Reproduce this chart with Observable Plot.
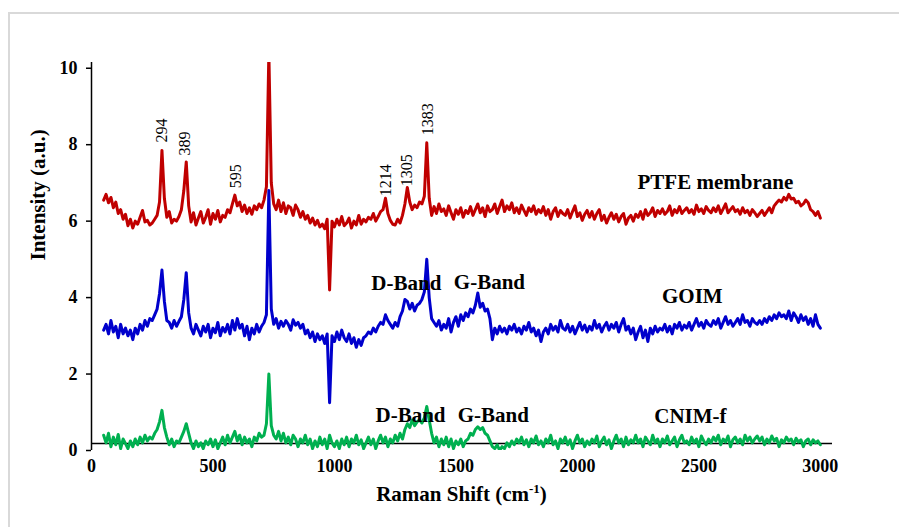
<!DOCTYPE html>
<html><head><meta charset="utf-8">
<script src="https://cdn.jsdelivr.net/npm/d3@7"></script>
<script src="https://cdn.jsdelivr.net/npm/@observablehq/plot@0.6"></script>
<style>
html,body{margin:0;padding:0;background:#fff;overflow:hidden;width:899px;height:527px}
#frame{position:absolute;left:8px;top:12px;width:2000px;height:2000px;border:2px solid #d9d9d9;box-sizing:border-box}
#chart{position:absolute;left:0;top:0}
</style></head><body><div id="frame"></div><div id="chart"></div>
<script>
// Raman shift grid (cm-1), one sample every 10 cm-1 from 50 to 3000
const shift = d3.range(50, 3001, 10);

const ptfe = [
6.55,6.70,6.48,6.62,6.35,6.50,6.20,6.30,6.05,6.18,
5.88,6.05,5.82,6.00,5.92,6.10,6.28,5.98,6.02,5.90,
5.95,6.05,6.15,6.50,7.85,6.60,6.10,6.25,5.95,6.05,
6.00,6.12,6.30,6.80,7.55,6.40,5.98,6.22,5.90,6.08,
6.25,5.95,6.10,6.30,5.92,6.20,6.05,6.28,5.98,6.15,
6.10,6.30,6.22,6.45,6.68,6.40,6.50,6.25,6.42,6.20,
6.35,6.18,6.40,6.30,6.45,6.35,6.55,6.90,10.4,7.00,
6.45,6.30,6.55,6.25,6.48,6.20,6.40,6.35,6.15,6.42,
6.30,6.10,6.25,6.05,6.15,5.95,6.08,5.90,6.02,5.85,
5.92,5.80,6.05,4.20,6.00,5.85,6.05,5.90,6.12,5.88,
5.95,6.08,5.82,6.00,5.90,6.15,5.92,6.05,5.98,6.10,
6.05,6.20,6.00,6.12,6.25,6.30,6.60,6.20,6.02,5.92,
5.90,6.05,5.95,6.15,6.45,6.88,6.50,6.30,6.42,6.35,
6.50,6.45,6.65,8.05,6.60,6.15,6.38,6.20,6.45,6.25,
6.32,6.15,6.40,6.22,6.05,6.30,6.18,6.35,6.10,6.28,
6.20,6.38,6.15,6.30,6.45,6.22,6.35,6.12,6.40,6.25,
6.30,6.45,6.20,6.38,6.55,6.25,6.40,6.30,6.48,6.22,
6.35,6.20,6.42,6.28,6.15,6.35,6.25,6.40,6.18,6.30,
6.22,6.38,6.15,6.30,6.05,6.25,6.35,6.12,6.28,6.20,
6.15,6.30,6.08,6.25,6.40,6.12,6.22,6.02,6.18,6.28,
6.10,6.25,6.05,6.20,6.30,6.02,6.15,5.95,6.10,6.22,
6.05,6.18,5.98,6.12,6.20,5.92,6.08,6.15,6.00,6.18,
6.10,6.25,6.05,6.30,6.15,6.22,6.35,6.12,6.28,6.20,
6.32,6.18,6.25,6.40,6.15,6.30,6.22,6.38,6.20,6.28,
6.35,6.22,6.30,6.18,6.42,6.25,6.32,6.20,6.38,6.28,
6.22,6.35,6.25,6.40,6.20,6.32,6.45,6.22,6.30,6.38,
6.25,6.30,6.18,6.35,6.22,6.28,6.15,6.30,6.22,6.12,
6.20,6.28,6.15,6.25,6.35,6.22,6.40,6.48,6.55,6.50,
6.62,6.55,6.70,6.58,6.60,6.48,6.52,6.40,6.45,6.55,
6.48,6.30,6.25,6.15,6.25,6.08
];

const goim = [
3.15,3.30,3.05,3.40,3.10,3.25,2.95,3.30,3.05,3.20,
3.00,3.15,2.90,3.20,3.05,3.30,3.15,3.40,3.25,3.45,
3.40,3.55,3.70,4.10,4.72,3.90,3.40,3.35,3.20,3.40,
3.25,3.38,3.50,3.95,4.65,3.60,3.20,3.05,3.30,3.15,
3.00,3.25,3.10,3.30,2.95,3.20,3.08,3.35,3.00,3.22,
3.10,3.30,3.05,3.40,3.15,3.45,3.20,3.30,3.00,3.25,
2.90,3.20,3.05,3.30,3.10,3.25,3.35,3.55,6.80,3.70,
3.30,3.45,3.20,3.38,3.25,3.40,3.30,3.15,3.42,3.28,
3.35,3.20,3.30,3.05,3.15,2.95,3.10,2.85,3.05,2.90,
3.00,2.80,3.05,1.25,3.00,2.85,3.10,2.90,3.15,2.95,
2.85,3.05,2.80,2.95,2.70,2.90,2.75,2.95,3.00,3.10,
3.05,3.20,3.10,3.25,3.35,3.30,3.55,3.40,3.30,3.20,
3.35,3.25,3.50,3.65,3.95,3.90,3.70,3.85,3.65,3.80,
3.85,3.95,4.15,5.00,4.00,3.45,3.35,3.25,3.40,3.15,
3.30,3.20,3.45,3.10,3.35,3.50,3.25,3.55,3.40,3.60,
3.50,3.70,3.60,3.80,4.12,3.75,3.85,3.65,3.70,3.45,
2.90,3.20,3.05,3.25,3.10,3.20,3.05,3.25,3.15,3.30,
3.10,3.20,3.05,3.25,3.15,3.35,3.10,3.20,3.00,3.15,
2.85,3.10,3.20,3.05,3.30,3.15,3.25,3.10,3.40,3.20,
3.15,3.30,3.10,3.25,3.05,3.20,3.35,3.15,3.28,3.10,
3.25,3.15,3.40,3.20,3.30,3.10,3.25,3.35,3.15,3.30,
3.20,3.35,3.10,3.30,3.45,3.15,3.25,3.05,3.20,2.90,
3.10,3.25,2.95,3.15,2.85,3.20,3.05,3.25,3.10,3.20,
3.15,3.30,3.10,3.25,3.05,3.30,3.20,3.35,3.15,3.28,
3.20,3.35,3.15,3.30,3.45,3.25,3.35,3.20,3.40,3.30,
3.25,3.40,3.30,3.45,3.20,3.35,3.50,3.30,3.40,3.25,
3.35,3.45,3.30,3.55,3.35,3.40,3.25,3.45,3.35,3.30,
3.40,3.30,3.45,3.35,3.50,3.40,3.55,3.45,3.60,3.50,
3.55,3.45,3.65,3.40,3.60,3.50,3.35,3.55,3.40,3.50,
3.30,3.45,3.25,3.55,3.30,3.20
];

const cnim = [
0.40,0.20,0.45,0.10,0.35,0.15,0.42,0.05,0.30,0.18,
0.05,0.25,0.10,0.30,0.15,0.35,0.20,0.40,0.25,0.35,
0.30,0.45,0.55,0.75,1.05,0.60,0.35,0.15,0.30,0.10,
0.25,0.20,0.35,0.50,0.70,0.45,0.20,0.05,0.25,0.10,
0.20,0.05,0.25,0.15,0.30,0.10,0.28,0.05,0.20,0.35,
0.15,0.40,0.20,0.35,0.50,0.25,0.40,0.15,0.35,0.20,
0.30,0.10,0.35,0.25,0.45,0.35,0.40,0.70,2.00,0.65,
0.40,0.30,0.50,0.25,0.45,0.20,0.35,0.15,0.40,0.30,
0.10,0.30,0.20,0.40,0.15,0.30,0.05,0.25,0.10,0.35,
0.15,0.30,0.05,0.40,0.20,0.10,0.25,0.05,0.30,0.15,
0.35,0.10,0.30,0.20,0.40,0.15,0.28,0.05,0.20,0.35,
0.15,0.30,0.05,0.25,0.40,0.20,0.35,0.10,0.30,0.20,
0.40,0.25,0.45,0.30,0.55,0.70,0.60,0.80,0.65,0.75,
0.80,0.72,0.85,1.15,0.80,0.45,0.20,0.35,0.10,0.30,
0.15,0.35,0.10,0.30,0.05,0.25,0.15,0.30,0.10,0.25,
0.30,0.45,0.40,0.55,0.62,0.55,0.60,0.45,0.40,0.25,
0.10,0.05,0.15,0.00,0.10,0.05,0.20,0.10,0.25,0.15,
0.30,0.20,0.35,0.15,0.28,0.10,0.30,0.20,0.38,0.15,
0.25,0.10,0.30,0.20,0.40,0.15,0.25,0.05,0.30,0.20,
0.35,0.15,0.28,0.05,0.25,0.40,0.20,0.30,0.10,0.25,
0.15,0.30,0.20,0.38,0.10,0.25,0.35,0.15,0.28,0.05,
0.25,0.40,0.20,0.30,0.10,0.35,0.15,0.28,0.20,0.40,
0.20,0.30,0.10,0.35,0.25,0.15,0.40,0.20,0.30,0.10,
0.30,0.20,0.38,0.15,0.25,0.35,0.10,0.28,0.40,0.20,
0.25,0.15,0.35,0.20,0.30,0.10,0.38,0.25,0.15,0.30,
0.20,0.35,0.25,0.40,0.15,0.30,0.22,0.38,0.10,0.28,
0.35,0.20,0.30,0.15,0.40,0.25,0.35,0.20,0.30,0.38,
0.25,0.35,0.15,0.30,0.20,0.38,0.25,0.32,0.10,0.28,
0.20,0.35,0.25,0.30,0.15,0.32,0.22,0.28,0.10,0.25,
0.30,0.15,0.28,0.20,0.25,0.15
];

const seriesNames = ["PTFE membrane", "GOIM", "CNIM-f"];
const seriesColors = ["#C00000", "#0000CC", "#00B050"];
const xTicks = [0, 500, 1000, 1500, 2000, 2500, 3000];
const yTicks = [0, 2, 4, 6, 8, 10];

// peak annotations (cm-1 and intensity where each label starts)
const peakText = ["294", "389", "595", "1214", "1305", "1383"];
const peakAtX = [288, 383, 593, 1210, 1300, 1383];
const peakAtY = [8.06, 7.72, 6.86, 6.65, 6.91, 8.25];

const nameAtX = [2568, 2473, 2465];
const nameAtY = [7.02, 4.03, 0.89];

const bandText = ["D-Band", "G-Band", "D-Band", "G-Band"];
const bandAtX = [1296, 1638, 1313, 1654];
const bandAtY = [4.37, 4.40, 0.92, 0.92];

const all = [ptfe, goim, cnim];
const rows = [];
all.forEach((ys, si) => ys.forEach((v, i) => rows.push({s: seriesNames[si], x: shift[i], y: v})));
const peaks = peakText.map((t, i) => ({t, x: peakAtX[i], y: peakAtY[i]}));
const names = seriesNames.map((t, i) => ({t, x: nameAtX[i], y: nameAtY[i]}));
const bands = bandText.map((t, i) => ({t, x: bandAtX[i], y: bandAtY[i]}));

const serif = "'Liberation Serif', 'Times New Roman', serif";

const chart = Plot.plot({
  width: 899, height: 527,
  marginLeft: 91, marginRight: 67, marginTop: 62, marginBottom: 77,
  style: {fontFamily: serif, background: "transparent", color: "#000"},
  x: {domain: [0, 3050]},
  y: {domain: [0, 10.15]},
  color: {domain: seriesNames, range: seriesColors},
  marks: [
    Plot.ruleY([0.18], {stroke: "#000", strokeWidth: 1.5}),
    Plot.line(rows, {x: "x", y: "y", z: "s", stroke: "s", strokeWidth: 3, strokeLinejoin: "round", clip: true}),
    Plot.ruleX([0], {stroke: "#000", strokeWidth: 1.5}),
    Plot.axisY({ticks: yTicks, tickSize: 5, tickPadding: 9, fontSize: 18, fontWeight: "bold", label: null, strokeWidth: 1.5}),
    Plot.axisX({ticks: xTicks, tickFormat: d3.format("d"), tickSize: 0, tickPadding: 9, fontSize: 18, fontWeight: "bold", label: null}),
    Plot.text(peaks, {x: "x", y: "y", text: "t", rotate: -90, textAnchor: "start", lineAnchor: "middle", fontSize: 16, fill: "#000"}),
    Plot.text(names, {x: "x", y: "y", text: "t", fontSize: 21, fontWeight: "bold", fill: "#000"}),
    Plot.text(bands, {x: "x", y: "y", text: "t", fontSize: 21, fontWeight: "bold", fill: "#000"}),
    Plot.text(["Intensity (a.u.)"], {y: 4.97, frameAnchor: "left", dx: -53, rotate: -90, fontSize: 21, fontWeight: "bold", fill: "#000"}),
    Plot.text(["Raman Shift (cm-1)"], {x: 1523, frameAnchor: "bottom", dy: 50, fontSize: 21, fontWeight: "bold", fill: "#000", className: "xtitle"})
  ]
});
document.getElementById("chart").appendChild(chart);

// superscript in the x title
const xt = chart.querySelector(".xtitle text");
if (xt) {
  xt.textContent = "";
  const ns = "http://www.w3.org/2000/svg";
  const a = document.createElementNS(ns, "tspan"); a.textContent = "Raman Shift (cm";
  const b = document.createElementNS(ns, "tspan"); b.textContent = "-1"; b.setAttribute("font-size", "13"); b.setAttribute("dy", "-8");
  const c = document.createElementNS(ns, "tspan"); c.textContent = ")"; c.setAttribute("dy", "8");
  xt.append(a, b, c);
}
</script></body></html>
